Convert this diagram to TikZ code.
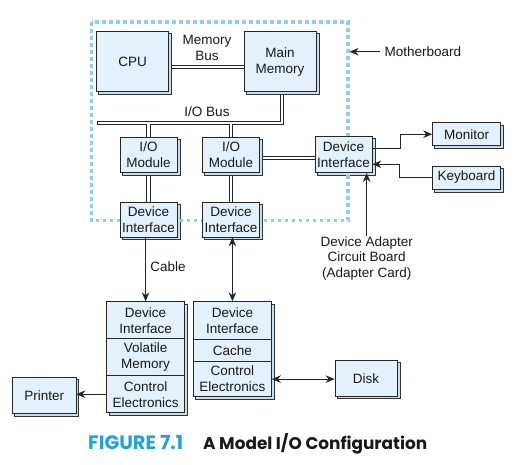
\documentclass[tikz,border=0pt]{standalone}
\usepackage{fontspec}
\setmainfont{Liberation Sans}
\newfontfamily\capfont{Poppins}
\usetikzlibrary{arrows.meta,calc,backgrounds}
\definecolor{boxfill}{HTML}{E2F1FB}
\definecolor{shfill}{HTML}{C9DDEA}
\definecolor{mbblue}{HTML}{8CCFF2}
\definecolor{capblue}{HTML}{1DA3E0}
\newcommand\nfont{\fontsize{13.5}{16}\selectfont}
\tikzset{
  box/.style={draw=black!85, line width=0.7pt, fill=boxfill, inner sep=0pt, align=center,
    font=\nfont, text=black!90},
  shad/.style={draw=black!80, line width=0.7pt, fill=shfill},
  lbl/.style={align=center, font=\nfont, text=black!90, inner sep=0pt},
  busout/.style={draw=black!85, line width=4.2pt},
  busin/.style={draw=white, line width=2.2pt},
  arr/.style={draw=black!85, line width=0.9pt, -{Stealth[length=9pt,width=7.5pt]}},
  darr/.style={draw=black!85, line width=0.9pt, {Stealth[length=9pt,width=7.5pt]}-{Stealth[length=9pt,width=7.5pt]}},
  mb/.style={draw=mbblue, line width=3.5pt, dash pattern=on 3.5pt off 3.5pt},
  capt/.style={anchor=base west, inner sep=0pt, font=\capfont\bfseries\fontsize{15}{18}\selectfont}
}
\begin{document}
\begin{tikzpicture}[x=1pt,y=-1pt]
\useasboundingbox (0,0) rectangle (517,464);
% motherboard outline
\draw[mb] (91.5,22) rectangle (348,220.7);
% boxes
\node[box, minimum width=72pt, minimum height=60pt] (cpu) at (132.6,61.6) {CPU};
\node[box, minimum width=72pt, minimum height=60pt] (mm) at (280,61.6) {Main\\Memory};
\node[box, minimum width=57pt, minimum height=35pt] (io1) at (148.5,154.7) {I/O\\Module};
\node[box, minimum width=57pt, minimum height=35pt] (io2) at (231,154.7) {I/O\\Module};
\node[box, minimum width=57pt, minimum height=36pt] (dir) at (343.5,154.6) {Device\\Interface};
\node[box, minimum width=57pt, minimum height=35pt] (di1) at (148.5,219.4) {Device\\Interface};
\node[box, minimum width=57pt, minimum height=35pt] (di2) at (231,219.4) {Device\\Interface};
\node[box, minimum width=68pt, minimum height=23pt] (mon) at (466.6,134.2) {Monitor};
\node[box, minimum width=68pt, minimum height=23pt] (kbd) at (466.6,177.5) {Keyboard};
\node[box, minimum width=63.3pt, minimum height=36.2pt] (prn) at (44.3,395.4) {Printer};
\node[box, minimum width=62pt, minimum height=35.3pt] (disk) at (366,378.3) {Disk};
% stacks
\node[box, minimum width=77.8pt, minimum height=37pt] (sa1) at (145.6,320.2) {Device\\Interface};
\node[box, minimum width=77.8pt, minimum height=37pt] (sa2) at (145.6,357.2) {Volatile\\Memory};
\node[box, minimum width=77.8pt, minimum height=37pt] (sa3) at (145.6,394.2) {Control\\Electronics};
\node[box, minimum width=78.2pt, minimum height=37.6pt] (sb1) at (232.4,320.5) {Device\\Interface};
\node[box, minimum width=78.2pt, minimum height=22.4pt] (sb2) at (232.4,350.5) {Cache};
\node[box, minimum width=78.2pt, minimum height=34.8pt] (sb3) at (232.4,379.1) {Control\\Electronics};
% labels
\node[lbl] (mbus) at (207,47.5) {Memory\\Bus};
\node[lbl] (iobus) at (207,112) {I/O Bus};
\node[lbl, anchor=west] (mbl) at (384.5,51.7) {Motherboard};
\node[lbl] (cable) at (168,266.7) {Cable};
\node[lbl, font=\fontsize{13.5}{15.8}\selectfont] (adp) at (366.7,258.5) {Device Adapter\\Circuit Board\\(Adapter Card)};
\coordinate (mbp) at (349.5,51.7);
\coordinate (busL) at (97,123);
\coordinate (busR) at ($(mm.south)+(1.7,0)$);
% background: buses and shadows
\begin{scope}[on background layer]
\fill[white] (0,0) rectangle (517,464);
\foreach \s in {busout,busin}{
  \draw[\s] ($(cpu.east)+(0,5)$) -- ($(mm.west)+(0,5)$);
  \draw[\s] (busL) -- (busR |- busL) -- (busR);
  \draw[\s] (io1.north |- busL) -- (io1.north);
  \draw[\s] (io2.north |- busL) -- (io2.north);
  \draw[\s] (io1.south) -- (di1.north);
  \draw[\s] (io2.south) -- (di2.north);
  \draw[\s] ($(io2.east)+(0,3.6)$) -- ($(dir.west)+(0,3.7)$);
}
\fill[black!85] ($(busL)+(0,-2.1)$) rectangle ($(busL)+(1,2.1)$);
\foreach \n in {cpu,mm,io1,io2,dir,di1,di2,mon,kbd,prn,disk}
  \draw[shad] ($(\n.south west)+(2.5,2.5)$) rectangle ($(\n.north east)+(2.5,2.5)$);
\draw[shad] ($(sa3.south west)+(2.5,2.5)$) rectangle ($(sa1.north east)+(2.5,2.5)$);
\draw[shad] ($(sb3.south west)+(2.5,2.5)$) rectangle ($(sb1.north east)+(2.5,2.5)$);
\end{scope}
% arrows
\draw[arr] ($(mbl.west)+(-4.5,0)$) -- (mbp);
\draw[arr] ($(dir.east)+(0,-6.3)$) -- ++(28,0) |- (mon.west);
\draw[arr] (kbd.west) -- ++(-32.7,0) |- ($(dir.east)+(0,9.7)$);
\draw[arr] (adp.north) -- (adp.north |- dir.south);
\draw[arr] (di1.south -| sa1.north) -- (sa1.north);
\draw[darr] (di2.south -| sb1.north) -- (sb1.north);
\draw[arr] (sa3.west) -- (prn.east |- sa3.west);
\draw[darr] (sb3.east) -- (disk.west |- sb3.east);
% caption
\node[capt, text=capblue] (fig) at (88,449) {\resizebox{95pt}{!}{FIGURE 7.1}};
\node[capt, text=black!90] (cap) at (203,449) {\resizebox{224pt}{!}{A Model I/O Configuration}};
\end{tikzpicture}
\end{document}
